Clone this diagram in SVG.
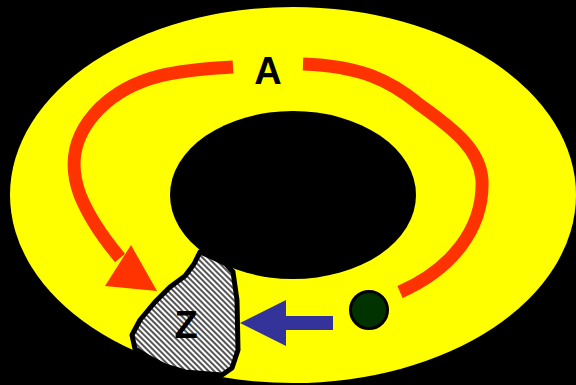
<svg xmlns="http://www.w3.org/2000/svg" width="576" height="385" viewBox="0 0 576 385">
<defs>
<pattern id="hatch" width="4" height="4" patternUnits="userSpaceOnUse" patternTransform="rotate(-45)">
<rect width="4" height="4" fill="#ffffff"/>
<rect width="2" height="4" fill="#555555"/>
</pattern>
<style>
.lbl{font-family:"Liberation Sans",Arial,sans-serif;font-weight:bold;font-size:38px;fill:#000;text-anchor:middle}
.red{fill:none;stroke:#ff3300;stroke-width:13}
</style>
</defs>
<rect width="576" height="385" fill="#000"/>
<g id="ring">
<ellipse cx="293" cy="195" rx="283" ry="188" fill="#ffff00"/>
<ellipse cx="293" cy="195" rx="123" ry="84" fill="#000"/>
</g>
<g id="connectors">
<path class="red" d="M233,67 C180,70 135,74 100,108 C70,138 70,168 80,195 C90,220 105,240 120,258"/>
<polygon points="105,286 131,245 157,291" fill="#ff3300"/>
<path class="red" d="M303,64 C360,66 390,80 420,105 C455,130 480,150 482,180 C484,230 450,270 400,292"/>
<rect x="265" y="316" width="68" height="14" fill="#333399"/>
<polygon points="240,323 286,300 286,346" fill="#333399"/>
</g>
<g id="A"><text class="lbl" x="268" y="84">A</text></g>
<g id="Z">
<path d="M200,252 L214,258 L226,264 L233,272 L237,300 L238,350 L232,368 L222,375 L185,372 L165,366 L148,357 L135,349 L132,335 L140,320 L155,302 L170,287 L185,276 L194,264 Z" fill="url(#hatch)" stroke="#000" stroke-width="5" stroke-linejoin="round"/>
<text class="lbl" x="186" y="338">Z</text>
</g>
<g id="dot"><circle cx="369" cy="310" r="18.5" fill="#003300" stroke="#000" stroke-width="3"/></g>
</svg>
